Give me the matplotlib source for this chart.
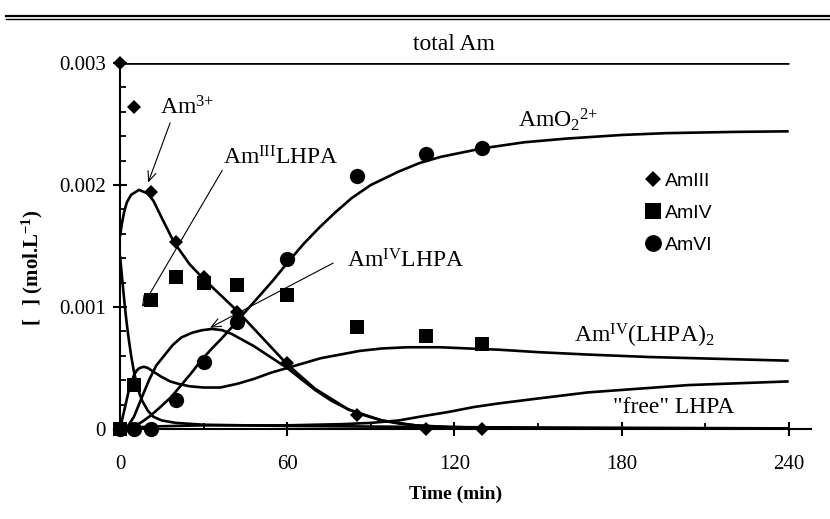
import numpy as np
import matplotlib
matplotlib.use("Agg")
import matplotlib.pyplot as plt
from matplotlib.lines import Line2D
from matplotlib.ticker import MultipleLocator, FixedLocator

plt.rcParams['font.family'] = ['Liberation Serif', 'DejaVu Serif']
plt.rcParams['mathtext.fontset'] = 'custom'
plt.rcParams['mathtext.rm'] = 'Liberation Serif'
plt.rcParams['mathtext.default'] = 'regular'

# measured points (time in min, concentration in mmol/L)
pt_time = [0, 5, 11, 20, 30, 42, 60, 85, 110, 130]
am3_pts = [3.0, 2.64, 1.94, 1.53, 1.25, 0.96, 0.54, 0.115, 0.0, 0.0]
am4_pts = [0.0, 0.36, 1.06, 1.25, 1.20, 1.18, 1.10, 0.84, 0.76, 0.70]
am6_pts = [0.0, 0.0, 0.0, 0.24, 0.55, 0.88, 1.39, 2.07, 2.25, 2.30]

# model curves
total_t = [0, 240]
total_c = [3.0, 3.0]

am3free_t = [0, 0.8, 1.6, 2.5, 4, 6.8, 10, 12, 15, 19.4, 25, 30, 36, 42, 51, 60, 70, 82, 94, 106,
             120, 150, 240]
am3free_c = [1.58, 1.70, 1.79, 1.86, 1.92, 1.96, 1.93, 1.87, 1.73, 1.53, 1.35, 1.23, 1.10, 0.97,
             0.75, 0.53, 0.33, 0.16, 0.07, 0.03, 0.01, 0.0, 0.0]

am3lhpa_t = [0, 0.5, 1, 1.5, 2, 2.5, 3, 4, 5, 6, 7, 8, 10, 12, 15, 20, 30, 45, 60, 90, 120, 180, 240]
am3lhpa_c = [1.42, 1.30, 1.18, 1.06, 0.95, 0.85, 0.76, 0.60, 0.47, 0.37, 0.29, 0.23, 0.15, 0.10,
             0.07, 0.05, 0.035, 0.03, 0.025, 0.02, 0.015, 0.01, 0.005]

am4lhpa_t = [0, 1.5, 3, 5, 7.5, 10.4, 13, 16.5, 19, 22, 26, 29.5, 33, 36.7, 40, 44, 48, 52, 56, 60,
             65, 70, 76, 82, 88, 94, 100, 106, 115, 130, 160, 240]
am4lhpa_c = [0, 0.0, 0.03, 0.10, 0.24, 0.40, 0.52, 0.62, 0.69, 0.75, 0.79, 0.81, 0.82, 0.81, 0.78,
             0.73, 0.68, 0.62, 0.56, 0.50, 0.41, 0.32, 0.23, 0.16, 0.11, 0.07, 0.045, 0.03, 0.02,
             0.01, 0.005, 0.0]

amo2_t = [0, 3, 5, 8, 11, 14, 18.3, 22, 26, 29, 33, 36, 40, 43, 50, 55, 60, 66, 71.5, 77, 83, 90,
          100, 107.5, 115, 130, 145, 160, 180, 196, 220, 240]
amo2_c = [0, 0.0, 0.02, 0.06, 0.11, 0.17, 0.26, 0.36, 0.47, 0.56, 0.66, 0.73, 0.83, 0.91, 1.09,
          1.22, 1.36, 1.52, 1.65, 1.77, 1.89, 2.0, 2.11, 2.18, 2.23, 2.30, 2.35, 2.38, 2.41, 2.425,
          2.435, 2.44]

am4lhpa2_t = [0, 1, 2, 3, 4, 5, 6, 7, 8.6, 10, 12, 14.7, 18, 21, 25, 30, 36, 42, 48, 54, 60, 66,
              72, 79, 86, 94, 103, 115, 125, 136, 150, 168, 190, 215, 240]
am4lhpa2_c = [0, 0.10, 0.20, 0.30, 0.38, 0.44, 0.48, 0.50, 0.51, 0.50, 0.47, 0.43, 0.39, 0.37, 0.35,
              0.34, 0.34, 0.37, 0.41, 0.46, 0.50, 0.54, 0.58, 0.61, 0.64, 0.66, 0.67, 0.67, 0.66,
              0.65, 0.63, 0.61, 0.59, 0.575, 0.56]

freel_t = [0, 10, 30, 60, 80, 90, 100, 105, 110, 118, 127, 136, 150, 168, 186, 204, 222, 240]
freel_c = [0.0, 0.02, 0.03, 0.03, 0.04, 0.05, 0.07, 0.09, 0.11, 0.14, 0.18, 0.21, 0.25, 0.30, 0.33,
           0.36, 0.375, 0.39]

x_ticks = [0, 60, 120, 180, 240]
y_ticks = [0, 0.001, 0.002, 0.003]
y_ticklabels = ["0", "0.001", "0.002", "0.003"]

mm = 1e-3

fig = plt.figure(figsize=(8.3, 5.19), dpi=100)
ax = fig.add_axes([120 / 830, 1 - 429 / 519, (811 - 120) / 830, (429 - 63) / 519])

curves = [(total_t, total_c), (am3free_t, am3free_c), (am3lhpa_t, am3lhpa_c),
          (am4lhpa_t, am4lhpa_c), (amo2_t, amo2_c), (am4lhpa2_t, am4lhpa2_c),
          (freel_t, freel_c)]
for t, c in curves:
    ax.plot(t, np.array(c) * mm, color="black", lw=1.9, solid_capstyle="butt", zorder=2)

ax.plot(pt_time, np.array(am3_pts) * mm, "D", color="black", ms=7.6, mew=0,
        label="AmIII", clip_on=False, zorder=4)
ax.plot(pt_time, np.array(am4_pts) * mm, "s", color="black", ms=10.5, mew=0,
        label="AmIV", clip_on=False, zorder=4)
ax.plot(pt_time, np.array(am6_pts) * mm, "o", color="black", ms=11, mew=0,
        label="AmVI", clip_on=False, zorder=4)

ax.set_xlim(0, 248)
ax.set_ylim(0, 0.003)
ax.xaxis.set_major_locator(FixedLocator(x_ticks))
ax.xaxis.set_minor_locator(MultipleLocator(30))
ax.yaxis.set_major_locator(FixedLocator(y_ticks))
ax.set_yticklabels(y_ticklabels)
ax.yaxis.set_minor_locator(MultipleLocator(0.0002))

for side in ["top", "right"]:
    ax.spines[side].set_visible(False)
for side in ["left", "bottom"]:
    ax.spines[side].set_linewidth(1.5)

ax.tick_params(which="major", direction="inout", length=10, width=1.5, labelsize=15)
ax.tick_params(which="minor", direction="in", length=4.5, width=1.3)
ax.tick_params(axis="y", which="major", pad=5)
ax.tick_params(axis="x", which="major", pad=14)

ax.set_xlabel("Time (min)", fontsize=14, fontweight="bold")
ax.set_ylabel(r"[$\ \ $] (mol.L$^{-1}$)", fontsize=15, fontweight="bold")
ax.xaxis.set_label_coords(0.485, -0.155)
ax.yaxis.set_label_coords(-0.108, 0.44)

# curve labels
lab_fs = 17
ax.text(120, 3.155e-3, "total Am", fontsize=lab_fs, ha="center", va="center")
ax.text(14.4, 2.58e-3, r"Am$^{3{+}}$", fontsize=lab_fs, ha="left", va="baseline")
ax.text(37, 2.17e-3, r"Am$^{III}$LHPA", fontsize=lab_fs, ha="left", va="baseline")
ax.text(81.6, 1.32e-3, r"Am$^{IV}$LHPA", fontsize=lab_fs, ha="left", va="baseline")
ax.text(143, 2.47e-3, r"AmO$_{2}{}^{2{+}}$", fontsize=lab_fs, ha="left", va="baseline")
ax.text(162.8, 0.705e-3, r"Am$^{IV}$(LHPA)$_2$", fontsize=lab_fs, ha="left", va="baseline")
ax.text(176.8, 0.131e-3, '"free" LHPA', fontsize=lab_fs, ha="left", va="baseline")

arrow = dict(arrowstyle="->,head_length=0.7,head_width=0.3", lw=0.8, color="black",
             shrinkA=0, shrinkB=0)
ax.annotate("", xy=(10.1, 2.02e-3), xytext=(18, 2.51e-3), arrowprops=arrow)
ax.annotate("", xy=(7.9, 1.0e-3), xytext=(36.7, 2.12e-3), arrowprops=arrow)
ax.annotate("", xy=(32.3, 0.83e-3), xytext=(76.5, 1.36e-3), arrowprops=arrow)

ax.legend(loc="upper left", bbox_to_anchor=(645 / 830, 1 - 172 / 519),
          bbox_transform=fig.transFigure, frameon=False, borderpad=0, borderaxespad=0,
          handlelength=0.8, handletextpad=0.25, labelspacing=0.75, numpoints=1,
          markerscale=1.1, prop={"family": "Liberation Sans", "size": 14})

# double rule at the top of the page
fig.add_artist(Line2D([6 / 830, 1], [1 - 15.5 / 519] * 2, transform=fig.transFigure,
                      color="black", lw=1.6))
fig.add_artist(Line2D([6 / 830, 1], [1 - 18.8 / 519] * 2, transform=fig.transFigure,
                      color="black", lw=1.0))

fig.savefig("out.png", dpi=100)
